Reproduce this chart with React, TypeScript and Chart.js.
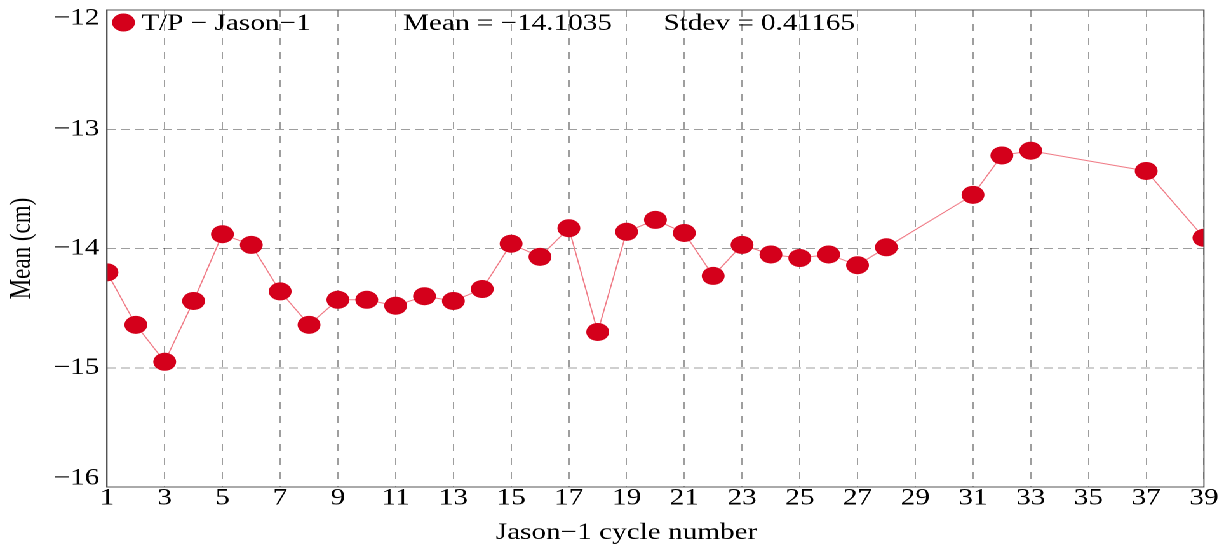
import React, { useEffect, useRef } from 'react';
import { Chart, registerables } from 'chart.js';

Chart.register(...registerables);

// ---- data ----
const CYCLES = [1, 2, 3, 4, 5, 6, 7, 8, 9, 10, 11, 12, 13, 14, 15, 16, 17, 18, 19, 20, 21, 22, 23, 24, 25, 26, 27, 28, 31, 32, 33, 37, 39];
const MEANS = [
  -14.2, -14.64, -14.95, -14.44, -13.88, -13.97, -14.36, -14.64, -14.43, -14.43,
  -14.48, -14.4, -14.44, -14.34, -13.96, -14.07, -13.83, -14.7, -13.86, -13.76,
  -13.87, -14.23, -13.97, -14.05, -14.08, -14.05, -14.14, -13.99, -13.55, -13.22,
  -13.18, -13.35, -13.91,
];
const X_TICKS = [1, 3, 5, 7, 9, 11, 13, 15, 17, 19, 21, 23, 25, 27, 29, 31, 33, 35, 37, 39];
const Y_TICKS = [-16, -15, -14, -13, -12];
const SERIES_LABEL = 'T/P \u2212 Jason\u22121';
const MEAN_TEXT = 'Mean = \u221214.1035';
const STDEV_TEXT = 'Stdev = 0.41165';
const X_TITLE = 'Jason\u22121 cycle number';
const Y_TITLE = 'Mean (cm)';

// ---- style ----
const W = 969;
const H = 544;
const SX = 1231 / W;
const FONT = "'Liberation Serif', 'Times New Roman', serif";
const RED = '#d4001b';
const LINE = '#f07d88';
const GRID = 'rgba(0,0,0,0.38)';
const FRAME = '#555';

export default function App() {
  const ref = useRef<HTMLCanvasElement>(null);

  useEffect(() => {
    if (!ref.current) return;

    const framePlugin = {
      id: 'frame',
      afterDatasetsDraw(chart: any) {
        const { ctx, chartArea } = chart;
        ctx.save();
        ctx.strokeStyle = FRAME;
        ctx.lineWidth = 1;
        ctx.strokeRect(chartArea.left, chartArea.top, chartArea.right - chartArea.left, chartArea.bottom - chartArea.top);
        ctx.restore();
      },
    };

    const textPlugin = {
      id: 'inlineLegend',
      afterDatasetsDraw(chart: any) {
        const { ctx, chartArea } = chart;
        const ds = chart.data.datasets[0];
        ctx.save();
        ctx.fillStyle = RED;
        ctx.beginPath();
        ctx.arc(chartArea.left + 13, chartArea.top + 12.5, 9, 0, Math.PI * 2);
        ctx.fill();
        ctx.fillStyle = '#000';
        ctx.font = `23px ${FONT}`;
        ctx.textBaseline = 'alphabetic';
        ctx.textAlign = 'left';
        ctx.fillText(ds.label, chartArea.left + 27, chartArea.top + 20);
        ctx.fillText(MEAN_TEXT, chartArea.left + 233, chartArea.top + 20);
        ctx.fillText(STDEV_TEXT, chartArea.left + 438, chartArea.top + 20);
        // x axis title, centred under the figure as in the reference
        ctx.textAlign = 'center';
        ctx.fillText(X_TITLE, chart.width * 0.509, chart.height - 5);
        ctx.restore();
      },
    };

    const yMin = Math.min(...Y_TICKS);
    const yMax = Math.max(...Y_TICKS);

    const chart = new Chart(ref.current, {
      type: 'line',
      data: {
        datasets: [
          {
            label: SERIES_LABEL,
            data: CYCLES.map((x, i) => ({ x, y: MEANS[i] })),
            borderColor: LINE,
            borderWidth: 1,
            backgroundColor: RED,
            pointBackgroundColor: RED,
            pointBorderColor: RED,
            pointBorderWidth: 0,
            pointRadius: 9,
            pointHoverRadius: 9,
            tension: 0,
            fill: false,
          },
        ],
      },
      options: {
        responsive: false,
        animation: false,
        devicePixelRatio: 2,
        layout: { padding: { left: 0, right: 21.3, top: 10, bottom: 0 } },
        plugins: { legend: { display: false }, tooltip: { enabled: false } },
        scales: {
          x: {
            type: 'linear',
            min: X_TICKS[0],
            max: X_TICKS[X_TICKS.length - 1],
            afterBuildTicks: (s: any) => {
              s.ticks = X_TICKS.map((v) => ({ value: v }));
            },
            grid: { color: GRID, lineWidth: 1, drawTicks: false },
            border: { display: true, color: FRAME, width: 1, dash: [7, 7] },
            ticks: {
              color: '#000',
              font: { family: FONT, size: 23, lineHeight: 1 },
              padding: 0,
              maxRotation: 0,
              autoSkip: false,
            },
            title: { display: false, text: X_TITLE },
            afterFit: (s: any) => {
              s.height = 57;
              s.paddingLeft = 0;
              s.paddingRight = 0;
            },
          },
          y: {
            type: 'linear',
            min: yMin,
            max: yMax,
            afterBuildTicks: (s: any) => {
              s.ticks = Y_TICKS.map((v) => ({ value: v }));
            },
            grid: { color: GRID, lineWidth: 1, drawTicks: false },
            border: { display: true, color: FRAME, width: 1, dash: [7, 4] },
            ticks: {
              color: '#000',
              font: { family: FONT, size: 23, lineHeight: 0.74 },
              padding: 6,
              callback: (v: any) => {
                const s = String(v).replace('-', '\u2212');
                if (v === yMax) return ['', s];
                if (v === yMin) return [s, ''];
                return s;
              },
            },
            title: {
              display: true,
              text: Y_TITLE,
              color: '#000',
              font: { family: FONT, size: 23, lineHeight: 1 },
              padding: { top: 6, bottom: 0 },
            },
            afterFit: (s: any) => {
              s.width = 84.2;
              s.paddingTop = 0;
              s.paddingBottom = 0;
            },
          },
        },
      },
      plugins: [framePlugin, textPlugin],
    });

    return () => chart.destroy();
  }, []);

  return (
    <div
      style={{
        position: 'fixed',
        left: 0,
        top: 0,
        width: `${W}px`,
        height: `${H}px`,
        transform: `scaleX(${SX})`,
        transformOrigin: '0 0',
        background: '#fff',
      }}
    >
      <canvas ref={ref} width={W} height={H} style={{ width: `${W}px`, height: `${H}px`, display: 'block' }} />
    </div>
  );
}
